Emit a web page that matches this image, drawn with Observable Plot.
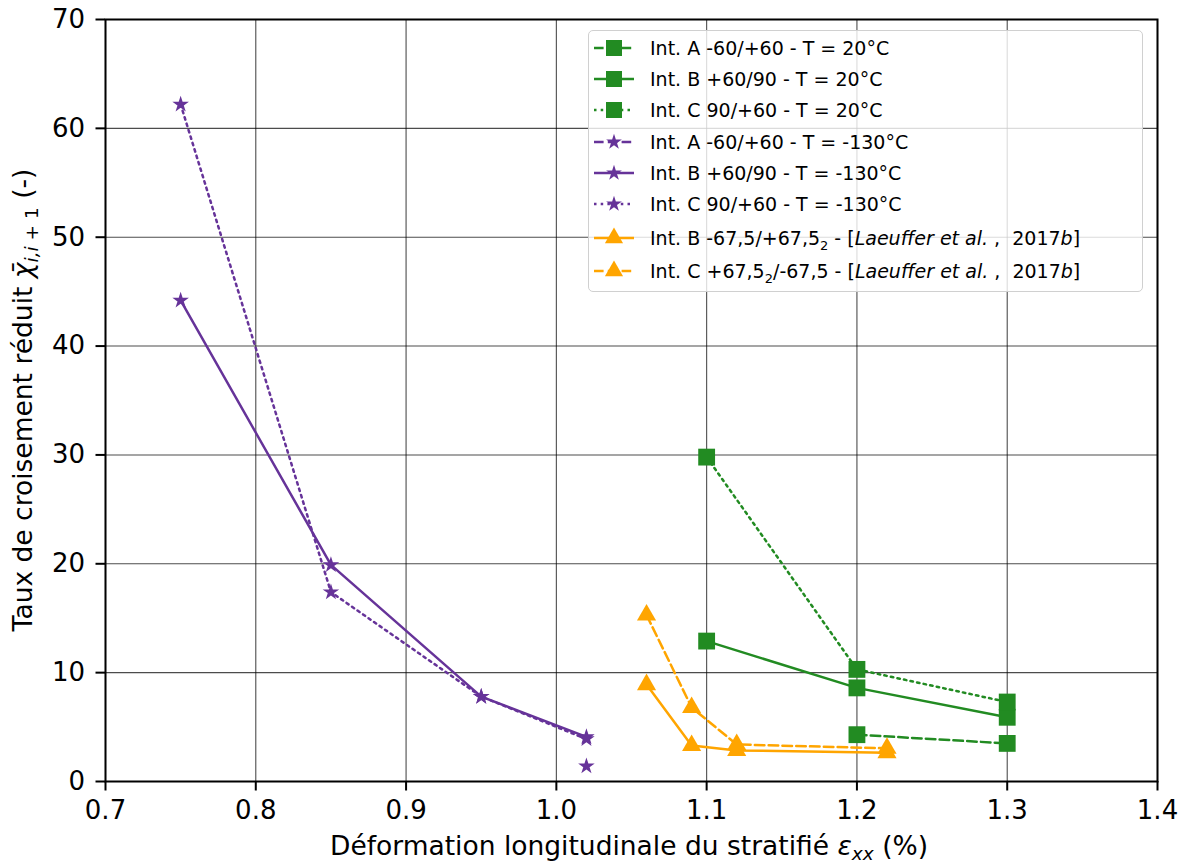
<!DOCTYPE html>
<html><head><meta charset="utf-8">
<script src="https://cdn.jsdelivr.net/npm/d3@7"></script>
<script src="https://cdn.jsdelivr.net/npm/@observablehq/plot@0.6"></script>
<style>
body{margin:0;background:#fff;font-family:"DejaVu Sans",sans-serif;}
#wrap{position:relative;width:1184px;height:863px;}
#legend{position:absolute;left:588px;top:30px;width:555px;height:262px;border:1px solid #d0d0d0;border-radius:5px;background:rgba(255,255,255,0.8);box-sizing:border-box;}
.row{position:absolute;left:4px;height:30px;display:flex;align-items:center;font-size:19px;white-space:nowrap;color:#000;}
.row svg{margin-right:15px;}
.row sub{font-size:13px;vertical-align:-5px;line-height:0;}
</style></head><body><div id="wrap"></div>
<script>
// ---- data ----
const xTicks = [0.7, 0.8, 0.9, 1.0, 1.1, 1.2, 1.3, 1.4];
const yTicks = [0, 10, 20, 30, 40, 50, 60, 70];

const greenA_x = [1.2, 1.3];            const greenA_y = [4.3, 3.5];
const greenB_x = [1.1, 1.2, 1.3];       const greenB_y = [12.9, 8.6, 5.9];
const greenC_x = [1.1, 1.2, 1.3];       const greenC_y = [29.8, 10.3, 7.3];
const purpleA_x = [1.02];               const purpleA_y = [1.4];
const purpleB_x = [0.75, 0.85, 0.95, 1.02]; const purpleB_y = [44.2, 19.9, 7.8, 4.1];
const purpleC_x = [0.75, 0.85, 0.95, 1.02]; const purpleC_y = [62.2, 17.4, 7.8, 3.9];
const orangeB_x = [1.06, 1.09, 1.12, 1.22]; const orangeB_y = [8.9, 3.3, 2.85, 2.65];
const orangeC_x = [1.06, 1.09, 1.12, 1.22]; const orangeC_y = [15.3, 6.8, 3.4, 3.05];

const seriesLabels = [
  "Int. A -60/+60 - T = 20°C",
  "Int. B +60/90 - T = 20°C",
  "Int. C 90/+60 - T = 20°C",
  "Int. A -60/+60 - T = -130°C",
  "Int. B +60/90 - T = -130°C",
  "Int. C 90/+60 - T = -130°C",
  "Int. B -67,5/+67,5<sub>2</sub> - [<i>Laeuffer et al.</i> ,&nbsp; 2017<i>b</i>]",
  "Int. C +67,5<sub>2</sub>/-67,5 - [<i>Laeuffer et al.</i> ,&nbsp; 2017<i>b</i>]"
];

// ---- styles ----
const GREEN = "#228B22", PURPLE = "#663399", ORANGE = "#FFA500";
const LW = 2.5;
const DASH = "9.6,4.2", DOT = "2.5,4.2", SOLID = null;
const series = [
  {x: greenA_x, y: greenA_y, color: GREEN, dash: DASH, symbol: "square", r: 9.5},
  {x: greenB_x, y: greenB_y, color: GREEN, dash: SOLID, symbol: "square", r: 9.5},
  {x: greenC_x, y: greenC_y, color: GREEN, dash: DOT, symbol: "square", r: 9.5},
  {x: purpleA_x, y: purpleA_y, color: PURPLE, dash: DASH, symbol: "star", r: 5.2},
  {x: purpleB_x, y: purpleB_y, color: PURPLE, dash: SOLID, symbol: "star", r: 5.2},
  {x: purpleC_x, y: purpleC_y, color: PURPLE, dash: DOT, symbol: "star", r: 5.2},
  {x: orangeB_x, y: orangeB_y, color: ORANGE, dash: SOLID, symbol: "triangle", r: 7.1},
  {x: orangeC_x, y: orangeC_y, color: ORANGE, dash: DASH, symbol: "triangle", r: 7.1}
].map((s, i) => ({...s, label: seriesLabels[i], data: s.x.map((x, j) => ({x, y: s.y[j]}))}));

const marks = [
  Plot.ruleX(xTicks, {stroke: "#000", strokeOpacity: 0.7, strokeWidth: 1.1}),
  Plot.ruleY(yTicks, {stroke: "#000", strokeOpacity: 0.7, strokeWidth: 1.1})
];
for (const s of series) {
  marks.push(Plot.line(s.data, {x: "x", y: "y", stroke: s.color, strokeWidth: LW, strokeDasharray: s.dash}));
  marks.push(Plot.dot(s.data, {x: "x", y: "y", fill: s.color, stroke: "none", symbol: s.symbol, r: s.r}));
}
marks.push(Plot.frame({stroke: "#000", strokeWidth: 2}));
marks.push(Plot.axisX(xTicks, {tickSize: 9.5, tickPadding: 9.5, tickFormat: d3.format(".1f"), label: null, strokeWidth: 2}));
marks.push(Plot.axisY(yTicks, {tickSize: 9.5, tickPadding: 11, tickFormat: d3.format("d"), label: null, strokeWidth: 2}));

const svg = Plot.plot({
  width: 1184, height: 863,
  marginLeft: 105, marginRight: 27, marginTop: 19, marginBottom: 82,
  x: {domain: [0.7, 1.4]},
  y: {domain: [0, 70]},
  style: {fontFamily: "DejaVu Sans", fontSize: "26px", color: "#000", background: "#fff"},
  marks
});

// axis labels with math formatting
const s = d3.select(svg);
const xl = s.append("text").attr("x", 629).attr("y", 855).attr("text-anchor", "middle")
  .attr("font-size", 26.5).attr("fill", "#000");
xl.append("tspan").text("Déformation longitudinale du stratifié ");
xl.append("tspan").attr("font-style", "italic").text("ε");
xl.append("tspan").attr("font-style", "italic").attr("font-size", 18.5).attr("dy", 5).text("xx");
xl.append("tspan").attr("dy", -5).text(" (%)");

const yl = s.append("text").attr("transform", "translate(32,400) rotate(-90)").attr("text-anchor", "middle")
  .attr("font-size", 26.5).attr("fill", "#000");
yl.append("tspan").text("Taux de croisement réduit ");
yl.append("tspan").attr("font-style", "italic").text("χ\u0304");
yl.append("tspan").attr("font-style", "italic").attr("font-size", 18.5).attr("dy", 6).text("i,i");
yl.append("tspan").attr("font-size", 18.5).text(" + 1");
yl.append("tspan").attr("dy", -6).text(" (-)");

const wrap = document.getElementById("wrap");
wrap.appendChild(svg);

// legend
const leg = document.createElement("div");
leg.id = "legend";
wrap.appendChild(leg);
const rowCenters = [17, 48, 79, 111, 142, 173, 207, 240];
series.forEach((sr, i) => {
  const row = document.createElement("div");
  row.className = "row";
  row.style.top = (rowCenters[i] - 15) + "px";
  const ns = "http://www.w3.org/2000/svg";
  const sv = document.createElementNS(ns, "svg");
  sv.setAttribute("width", 42); sv.setAttribute("height", 26);
  const ln = document.createElementNS(ns, "line");
  ln.setAttribute("x1", 1); ln.setAttribute("x2", 41); ln.setAttribute("y1", 13); ln.setAttribute("y2", 13);
  ln.setAttribute("stroke", sr.color); ln.setAttribute("stroke-width", LW);
  if (sr.dash) ln.setAttribute("stroke-dasharray", sr.dash);
  sv.appendChild(ln);
  const symMap = {square: d3.symbolSquare, star: d3.symbolStar, triangle: d3.symbolTriangle};
  const p = document.createElementNS(ns, "path");
  p.setAttribute("d", d3.symbol(symMap[sr.symbol], Math.PI * sr.r * sr.r * 0.9)());
  p.setAttribute("transform", "translate(21,13)");
  p.setAttribute("fill", sr.color);
  sv.appendChild(p);
  row.appendChild(sv);
  const sp = document.createElement("span");
  sp.innerHTML = sr.label;
  row.appendChild(sp);
  leg.appendChild(row);
});
</script></body></html>
